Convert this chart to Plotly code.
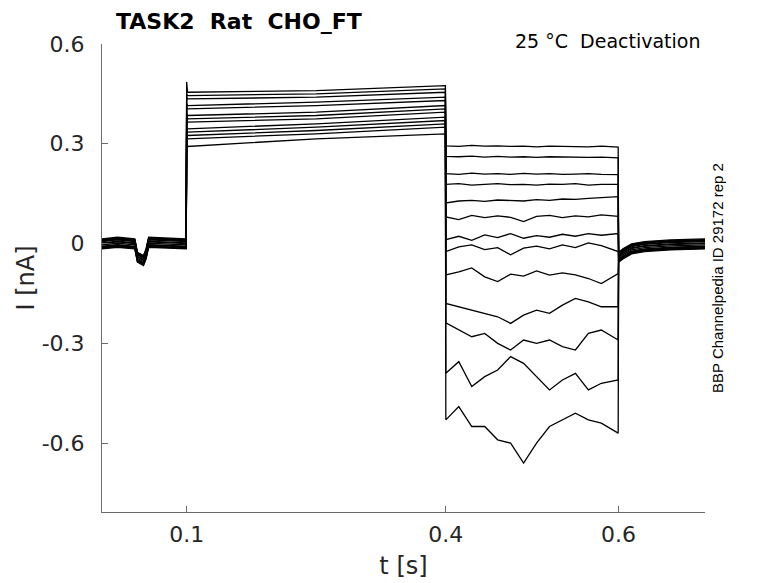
import plotly.graph_objects as go

# time grids [s]
pre_t = [0.002, 0.020, 0.040, 0.043, 0.050, 0.053, 0.056, 0.075, 0.0995]
act_t = [0.1, 0.101, 0.25, 0.3995]
tail_t = [0.400, 0.415, 0.430, 0.445, 0.460, 0.475, 0.490, 0.505,
          0.520, 0.535, 0.550, 0.565, 0.580, 0.5995]
post_t = [0.600, 0.605, 0.615, 0.630, 0.660, 0.700]

# shared holding current shape before / after the protocol [nA]
pre_i = [0.0, 0.005, 0.0, -0.04, -0.05, -0.03, 0.005, 0.002, 0.0]
post_i = [-0.04, -0.03, -0.015, -0.008, -0.003, 0.0]
# per-sweep spread of the holding current
base_offset = [0.012, -0.010, 0.006, -0.014, 0.010, -0.004, 0.014,
               -0.012, 0.002, -0.008, 0.008, -0.016, 0.0]

# activation step (0.1 - 0.4 s)
spike_peak = [0.486, 0.45, 0.44, 0.42, 0.41, 0.39, 0.38, 0.37, 0.35, 0.34, 0.33, 0.32, 0.30]
act_start = [0.455, 0.445, 0.435, 0.415, 0.405, 0.385, 0.375, 0.365, 0.345, 0.335, 0.325, 0.315, 0.292]
act_mid = [0.460, 0.450, 0.440, 0.425, 0.415, 0.395, 0.385, 0.375, 0.360, 0.350, 0.340, 0.330, 0.315]
act_end = [0.475, 0.465, 0.455, 0.440, 0.430, 0.415, 0.405, 0.395, 0.380, 0.370, 0.360, 0.350, 0.330]

# deactivation tails (0.4 - 0.6 s)
tails = [
    [0.294, 0.292, 0.295, 0.293, 0.294, 0.292, 0.293, 0.291, 0.293, 0.292, 0.292, 0.291, 0.293, 0.290],
    [0.262, 0.261, 0.263, 0.260, 0.262, 0.260, 0.261, 0.259, 0.261, 0.260, 0.261, 0.259, 0.260, 0.258],
    [0.210, 0.208, 0.212, 0.209, 0.210, 0.208, 0.211, 0.209, 0.210, 0.208, 0.209, 0.210, 0.208, 0.207],
    [0.178, 0.180, 0.176, 0.179, 0.180, 0.177, 0.178, 0.176, 0.179, 0.178, 0.180, 0.176, 0.178, 0.178],
    [0.122, 0.128, 0.130, 0.127, 0.131, 0.129, 0.128, 0.132, 0.130, 0.134, 0.133, 0.136, 0.138, 0.141],
    [0.080, 0.072, 0.085, 0.078, 0.083, 0.079, 0.066, 0.082, 0.085, 0.078, 0.083, 0.080, 0.086, 0.082],
    [0.012, 0.022, 0.010, 0.026, 0.018, 0.030, 0.016, 0.024, 0.019, 0.028, 0.022, 0.030, 0.025, 0.030],
    [-0.024, -0.010, -0.004, -0.018, -0.012, -0.034, -0.014, -0.008, -0.016, -0.004, -0.012, 0.002, -0.006, -0.024],
    [-0.094, -0.085, -0.073, -0.100, -0.114, -0.092, -0.098, -0.082, -0.095, -0.088, -0.094, -0.105, -0.120, -0.090],
    [-0.180, -0.190, -0.200, -0.210, -0.220, -0.240, -0.215, -0.200, -0.210, -0.185, -0.165, -0.175, -0.190, -0.190],
    [-0.238, -0.260, -0.280, -0.270, -0.300, -0.320, -0.290, -0.300, -0.290, -0.310, -0.320, -0.270, -0.260, -0.290],
    [-0.390, -0.355, -0.430, -0.400, -0.380, -0.340, -0.360, -0.400, -0.440, -0.410, -0.390, -0.440, -0.420, -0.410],
    [-0.530, -0.490, -0.550, -0.550, -0.590, -0.600, -0.660, -0.600, -0.550, -0.530, -0.510, -0.530, -0.540, -0.570],
]

y_ticks = [-0.6, -0.3, 0, 0.3, 0.6]
y_ticktext = ["-0.6", "-0.3", "0", "0.3", "0.6"]
x_ticks = [0.1, 0.4, 0.6]
x_ticktext = ["0.1", "0.4", "0.6"]

TXT = "#262626"
AX = "#6b6b6b"

fig = go.Figure()

for k in range(len(tails)):
    off = base_offset[k]
    t = pre_t + act_t + tail_t + post_t
    i = ([v + off for v in pre_i]
         + [spike_peak[k], act_start[k], act_mid[k], act_end[k]]
         + tails[k]
         + [v + off for v in post_i])
    fig.add_trace(go.Scatter(x=t, y=i, mode="lines",
                             line=dict(color="black", width=1.3),
                             showlegend=False, hoverinfo="skip"))

axis_common = dict(
    showline=True, linecolor=AX, linewidth=1,
    ticks="inside", ticklen=6, tickcolor=AX,
    showgrid=False, zeroline=False,
    tickfont=dict(family="DejaVu Sans", size=22, color=TXT),
)

fig.update_xaxes(range=[0.002, 0.7], tickvals=x_ticks, ticktext=x_ticktext,
                 title=dict(text="t [s]", font=dict(family="DejaVu Sans", size=24, color=TXT), standoff=10),
                 ticklabelstandoff=3, **axis_common)
fig.update_yaxes(range=[-0.807, 0.6], tickvals=y_ticks, ticktext=y_ticktext,
                 title=dict(text="I [nA]", font=dict(family="DejaVu Sans", size=24, color=TXT), standoff=0),
                 ticklabelstandoff=12, **axis_common)

# the page adds an 8 px body margin, margins compensate for it
fig.update_layout(
    width=778, height=583,
    margin=dict(l=94, r=81, t=36, b=79),
    plot_bgcolor="white", paper_bgcolor="white",
    annotations=[
        dict(text="<b>TASK2  Rat  CHO_FT</b>", xref="paper", yref="paper",
             x=0.0216, y=1.0765, xanchor="left", yanchor="top", showarrow=False,
             borderpad=0, font=dict(family="DejaVu Sans", size=22, color="black")),
        dict(text="25 °C  Deactivation", xref="paper", yref="paper",
             x=0.995, y=1.006, xanchor="right", yanchor="middle", showarrow=False,
             font=dict(family="DejaVu Sans", size=19, color="black")),
        dict(text="BBP Channelpedia ID 29172 rep 2", xref="paper", yref="paper",
             x=1.0199, y=0.5, xanchor="center", yanchor="middle", showarrow=False,
             textangle=-90, font=dict(family="Liberation Sans", size=15, color="black")),
    ],
)

fig.write_html("out.html")
